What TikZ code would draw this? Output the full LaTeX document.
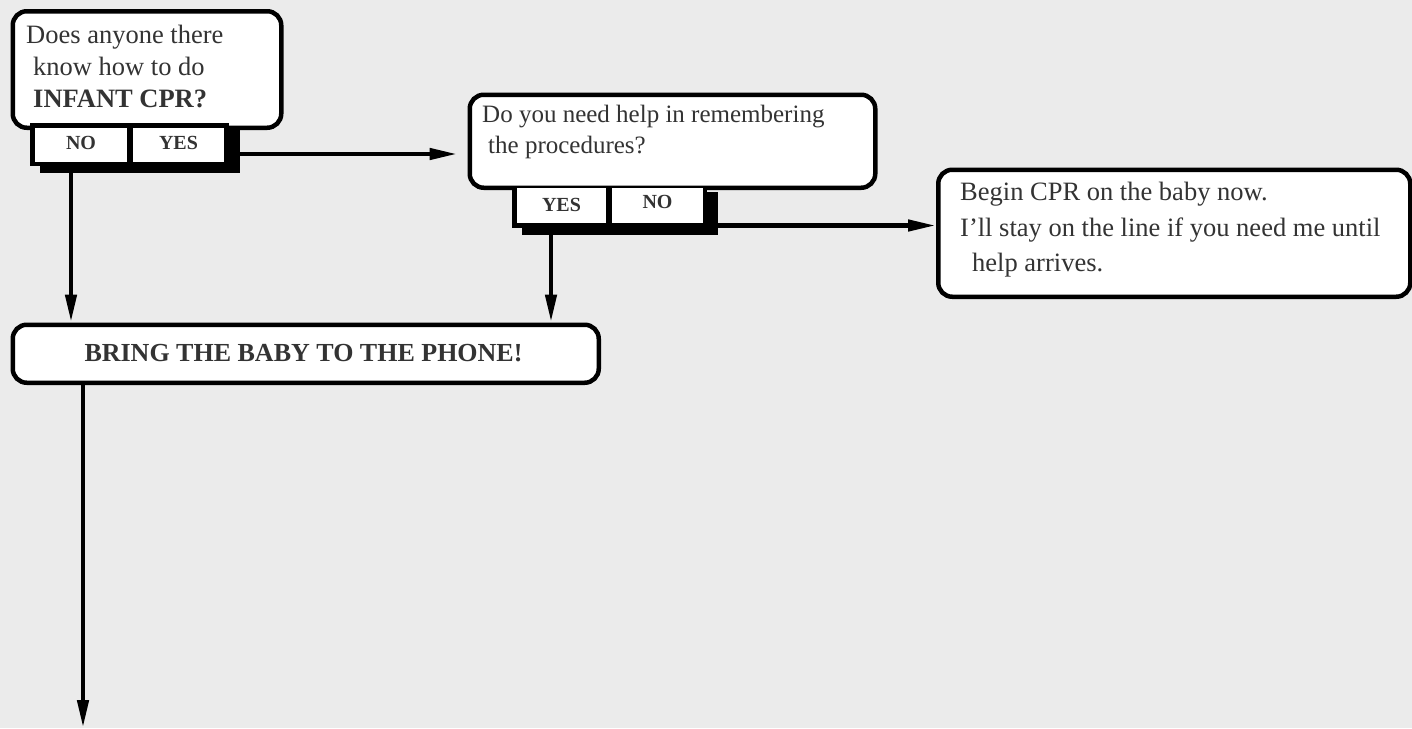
\documentclass[tikz,border=0pt]{standalone}
\usepackage{fontspec}
\setmainfont{Liberation Serif}
\usetikzlibrary{arrows.meta}
\definecolor{bgc}{HTML}{EBEBEB}
\definecolor{ink}{HTML}{333333}
\begin{document}
\begin{tikzpicture}[x=1pt,y=-1pt,
  box/.style={draw=black, line width=4.5pt, fill=white, rounded corners=14pt, inner sep=0pt, anchor=north west},
  txt/.style={text=ink, font=\fontsize{26.5}{32}\selectfont, inner sep=0pt, anchor=base west},
  txtb/.style={text=ink, font=\fontsize{25}{31}\selectfont, inner sep=0pt, anchor=base west},
  head/.style={text=ink, font=\fontsize{26}{32}\selectfont\bfseries, inner sep=0pt, anchor=base},
  cell/.style={fill=white, inner sep=0pt, anchor=north west},
  lab/.style={text=ink, font=\fontsize{20}{24}\selectfont\bfseries, inner sep=0pt, anchor=base},
  blk/.style={fill=black, inner sep=0pt, anchor=north west},
  arr/.style={line width=4.5pt, -{Triangle[length=28pt,width=11pt]}}]
\fill[bgc] (0,0) rectangle (1412,728);
\useasboundingbox (0,0) rectangle (1412,728);

% ---- question 1
\node[box, minimum width=268.5pt, minimum height=116.5pt] (q1) at (10.5,9) {};
\node[txt] (q1a) at (26,43) {Does anyone there};
\node[txt] (q1b) at (33,75) {know how to do};
\node[txt] (q1c) at (33,107) {\bfseries INFANT CPR?};
\node[blk, minimum width=200pt, minimum height=45pt] (sh1) at (40,128) {};
\node[blk, minimum width=199pt, minimum height=43pt] (fr1) at (30,123) {};
\node[cell, minimum width=92pt, minimum height=34pt] (no1) at (35,128) {};
\node[cell, minimum width=91pt, minimum height=34pt] (yes1) at (133,128) {};
\node[lab] (no1t) at (81,149) {NO};
\node[lab] (yes1t) at (178.5,149) {YES};

% ---- question 2
\node[box, minimum width=405.5pt, minimum height=93pt] (q2) at (467.5,92.5) {};
\node[txtb] (q2a) at (482,122) {Do you need help in remembering};
\node[txtb] (q2b) at (488,153) {the procedures?};
\node[blk, minimum width=196pt, minimum height=43pt] (sh2) at (522,192) {};
\node[blk, minimum width=195pt, minimum height=40pt] (fr2) at (512,188) {};
\node[cell, minimum width=89pt, minimum height=35pt] (yes2) at (517,188) {};
\node[cell, minimum width=91pt, minimum height=35pt] (no2) at (612,188) {};
\node[lab] (yes2t) at (561.5,211) {YES};
\node[lab] (no2t) at (657.5,208) {NO};

% ---- answer box
\node[box, minimum width=472pt, minimum height=127pt] (a1) at (936,167.5) {};
\node[txt] (a1a) at (960,200) {Begin CPR on the baby now.};
\node[txt] (a1b) at (960,236) {I'll stay on the line if you need me until};
\node[txt] (a1c) at (972,271) {help arrives.};

% ---- bring the baby
\node[box, minimum width=586pt, minimum height=58pt] (b1) at (10.5,322.5) {};
\node[head] (b1t) at (303.5,361) {BRING THE BABY TO THE PHONE!};

% ---- connector guides
\coordinate (xno) at (71,0);
\coordinate (xyes) at (551,0);
\coordinate (endp) at (83,728);

% ---- connectors
\draw[arr, shorten >=10pt] (sh1.east |- 0,154) -- (q2.west |- 0,154);
\draw[arr] (sh2.east |- 0,225.5) -- (a1.west |- 0,225.5);
\draw[arr] (xno |- sh1.south) -- (xno |- b1.north);
\draw[arr] (xyes |- sh2.south) -- (xyes |- b1.north);
\draw[arr] (b1.south -| endp) -- (endp);
\end{tikzpicture}
\end{document}
